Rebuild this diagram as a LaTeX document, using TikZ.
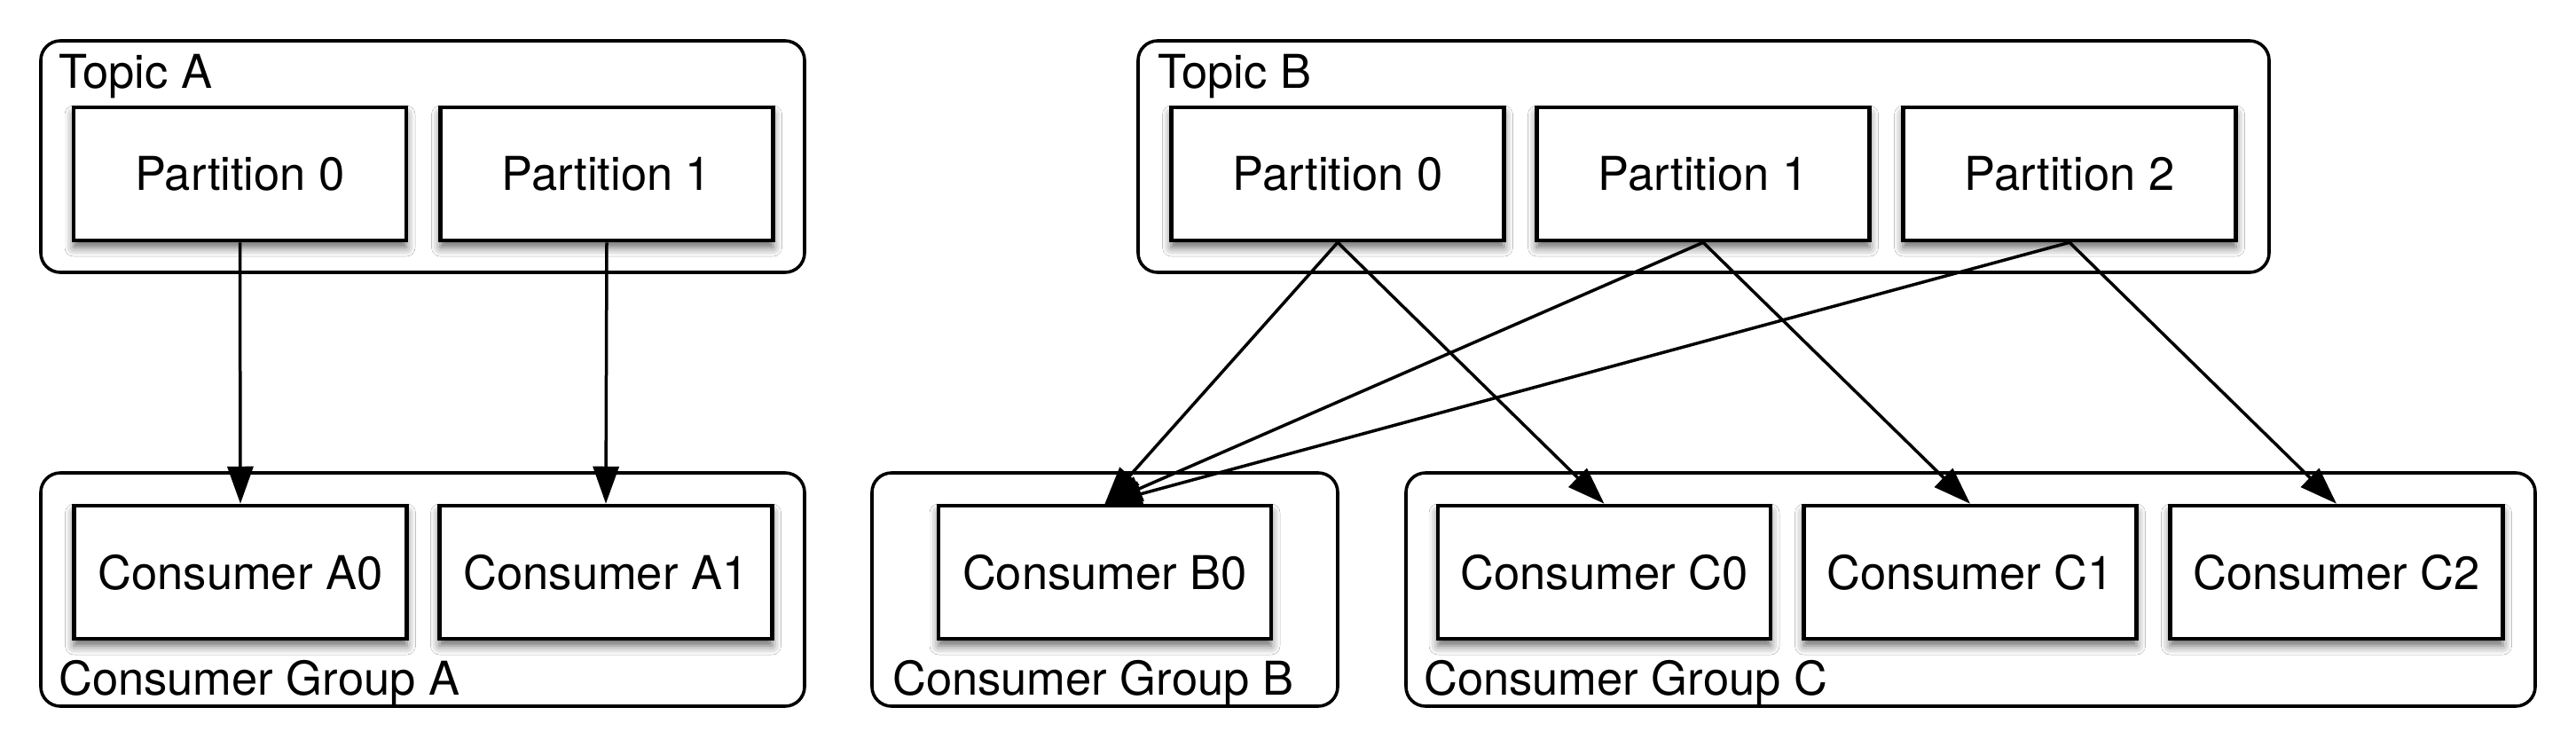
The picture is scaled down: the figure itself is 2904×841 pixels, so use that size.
\documentclass[tikz,border=0pt]{standalone}
\usepackage{fontspec}
\setmainfont{TeX Gyre Heros}
\usetikzlibrary{arrows.meta,shadows.blur}
\begin{document}
\begin{tikzpicture}[x=1pt,y=-1pt,
  txt/.style={font=\fontsize{52.5}{60}\selectfont},
  container/.style={draw=black, line width=3.6pt, rounded corners=22pt, fill=white, inner sep=0pt},
  inbox/.style={draw=black, line width=4.5pt, fill=white, minimum width=375pt, minimum height=150pt, inner sep=0pt, txt,
    blur shadow={shadow xshift=0pt, shadow yshift=-8pt, shadow blur radius=10pt, shadow opacity=60}},
  lbl/.style={txt, anchor=base west, inner sep=0pt},
  arr/.style={line width=3.5pt, -{Triangle[length=42pt,width=29pt]}}
]
\useasboundingbox (0,0) rectangle (2904,841);
% containers
\node[container, minimum width=861pt, minimum height=261pt] (topicA) at (476.5,176.5) {};
\node[container, minimum width=1275pt, minimum height=261pt] (topicB) at (1920.5,176.5) {};
\node[container, minimum width=861pt, minimum height=263pt] (groupA) at (476.5,664.5) {};
\node[container, minimum width=525pt, minimum height=263pt] (groupB) at (1245.5,664.5) {};
\node[container, minimum width=1273pt, minimum height=263pt] (groupC) at (2221.5,664.5) {};
% container labels
\node[lbl] (lTA) at (66,99) {Topic A};
\node[lbl] (lTB) at (1305,99) {Topic B};
\node[lbl] (lGA) at (66,783) {Consumer Group A};
\node[lbl] (lGB) at (1006,783) {Consumer Group B};
\node[lbl] (lGC) at (1605,783) {Consumer Group C};
% partitions
\node[inbox] (pa0) at (270.5,196) {Partition 0};
\node[inbox] (pa1) at (684,196) {Partition 1};
\node[inbox] (pb0) at (1508,196) {Partition 0};
\node[inbox] (pb1) at (1920,196) {Partition 1};
\node[inbox] (pb2) at (2333,196) {Partition 2};
% consumers
\node[inbox] (ca0) at (271,645) {Consumer A0};
\node[inbox] (ca1) at (683,645) {Consumer A1};
\node[inbox] (cb0) at (1245.5,645) {Consumer B0};
\node[inbox] (cc0) at (1808.5,645) {Consumer C0};
\node[inbox] (cc1) at (2221,645) {Consumer C1};
\node[inbox] (cc2) at (2634,645) {Consumer C2};
% connectors
\draw[arr] (pa0.south) -- (ca0.north);
\draw[arr] (pa1.south) -- (ca1.north);
\draw[arr] (pb0.south) -- (cb0.north);
\draw[arr] (pb0.south) -- (cc0.north);
\draw[arr] (pb1.south) -- (cb0.north);
\draw[arr] (pb1.south) -- (cc1.north);
\draw[arr] (pb2.south) -- (cb0.north);
\draw[arr] (pb2.south) -- (cc2.north);
\end{tikzpicture}
\end{document}
